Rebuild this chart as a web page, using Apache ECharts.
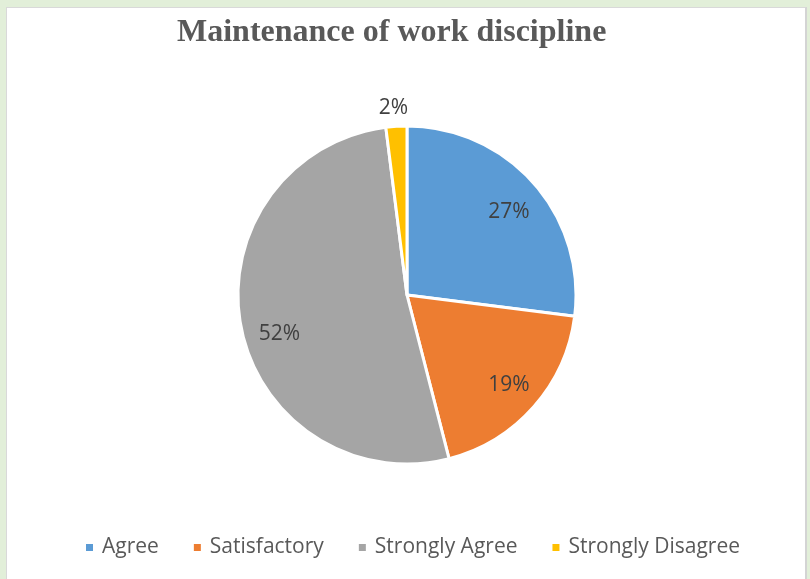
<!DOCTYPE html>
<html>
<head>
<meta charset="utf-8">
<script src="https://cdn.jsdelivr.net/npm/echarts@6/dist/echarts.min.js"></script>
<style>
  html, body { margin: 0; padding: 0; background: #e2efd9; width: 810px; height: 579px; overflow: hidden; }
  #chart { position: absolute; left: 6px; top: 7px; width: 798px; height: 580px; background: #fff;
           border-left: 1px solid #d9d9d9; border-top: 1px solid #d9d9d9; border-right: 2px solid #d4d4d4; }
</style>
</head>
<body>
<div id="chart"></div>
<script>
// data
const categories = ['Agree', 'Satisfactory', 'Strongly Agree', 'Strongly Disagree'];
const values = [27, 19, 52, 2];
const colors = ['#5b9bd5', '#ed7d31', '#a5a5a5', '#ffc000'];

let chart = echarts.init(document.getElementById('chart'));

const pieData = categories.map((name, i) => ({ name: name, value: values[i] }));
// second ring only carries the labels, so they sit further out than the default
// small nudges so the labels land where the original has them
const labelOffsets = [[0, 7], [0, 0], [6, 14], [-5, -51]];
const labelData = categories.map((name, i) => ({
  name: name,
  value: values[i],
  label: { offset: labelOffsets[i] }
}));

let option = {
  color: colors,
  animation: false,
  title: {
    text: 'Maintenance of work discipline',
    left: 165,
    top: 4,
    textStyle: {
      fontFamily: 'Liberation Serif',
      fontWeight: 'bold',
      fontSize: 32,
      color: '#595959'
    }
  },
  legend: {
    data: categories,
    left: 77,
    top: 529,
    padding: 0,
    icon: 'rect',
    itemWidth: 9,
    itemHeight: 9,
    itemGap: 33,
    textStyle: {
      fontFamily: 'Open Sans',
      fontSize: 21,
      color: '#595959',
      padding: [0, 0, 0, 3]
    }
  },
  series: [
    {
      name: 'main',
      type: 'pie',
      center: [400, 287],
      radius: [0, 169],
      startAngle: 90,
      clockwise: true,
      label: { show: false },
      labelLine: { show: false },
      itemStyle: { borderColor: '#fff', borderWidth: 3 },
      emphasis: { disabled: true },
      data: pieData
    },
    {
      name: 'labels',
      type: 'pie',
      center: [400, 287],
      radius: [97, 169],
      startAngle: 90,
      clockwise: true,
      silent: true,
      legendHoverLink: false,
      itemStyle: { color: 'rgba(0,0,0,0)' },
      label: {
        show: true,
        position: 'inside',
        formatter: '{c}%',
        fontFamily: 'Open Sans',
        fontSize: 21,
        color: '#404040'
      },
      labelLine: { show: false },
      emphasis: { disabled: true },
      data: labelData
    }
  ]
};
chart.setOption(option);
</script>
</body>
</html>
